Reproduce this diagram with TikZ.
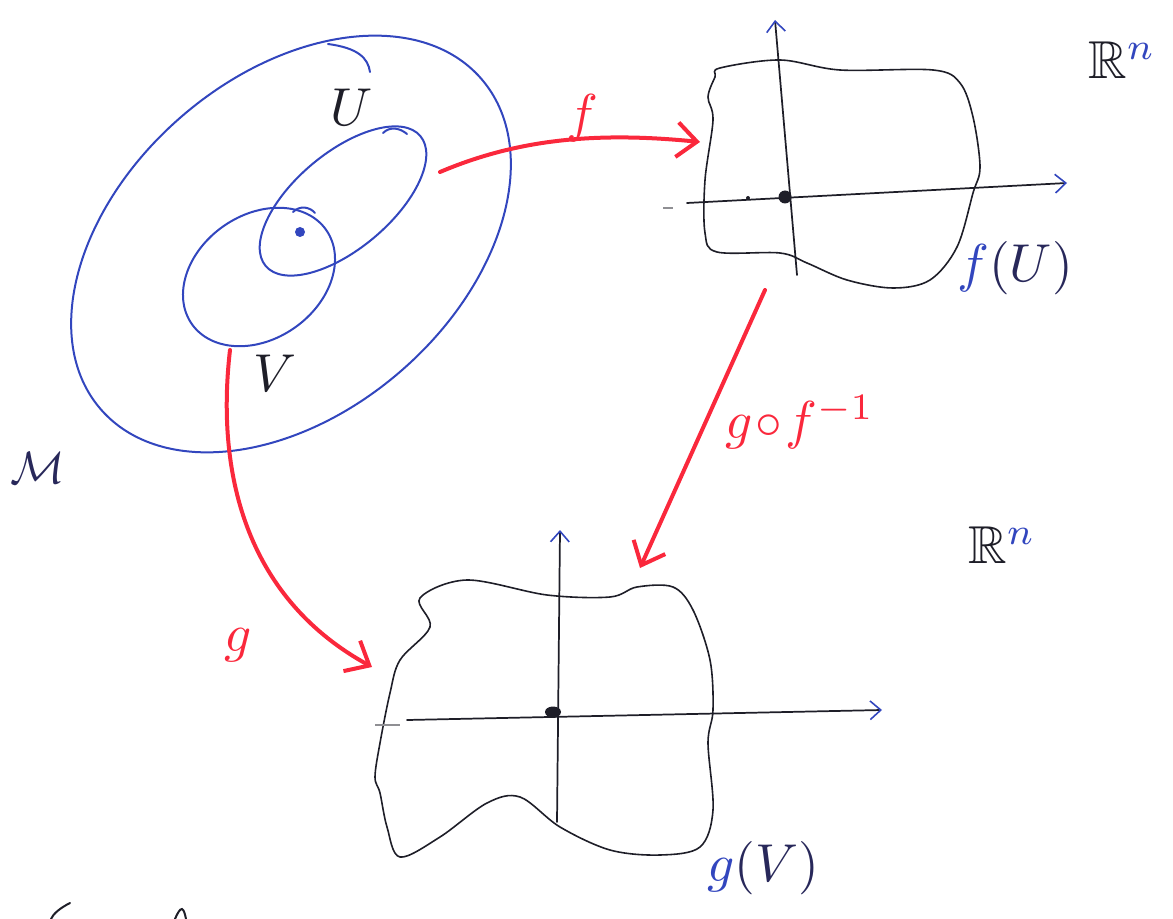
\documentclass[tikz,border=0pt]{standalone}
\usepackage{amssymb}
\usepackage{graphicx}
\usetikzlibrary{arrows.meta}
\definecolor{penblue}{RGB}{50,70,190}
\definecolor{penred}{RGB}{250,40,60}
\definecolor{ink}{RGB}{30,30,40}
\definecolor{navy}{RGB}{40,40,90}
\newcommand{\handlbl}[1]{\scalebox{4}{$#1$}}
\newcommand{\handlblsm}[1]{\scalebox{3.4}{$#1$}}
\tikzset{
  blueline/.style={draw=penblue, line width=1.5pt, line cap=round, line join=round},
  blackline/.style={draw=ink, line width=1.2pt, line cap=round, line join=round},
  redarrow/.style={draw=penred, line width=3pt, line cap=round, -{Straight Barb[length=15pt,width=26pt,line width=3pt]}},
  axis/.style={draw=ink, line width=1.3pt, line cap=round, -{Straight Barb[color=penblue,length=8pt,width=14pt,line width=1.2pt]}},
  lbl/.style={inner sep=0pt},
  redlbl/.style={lbl, text=penred},
}
\begin{document}
\begin{tikzpicture}[x=0.75pt,y=-0.75pt]
\useasboundingbox (0,0) rectangle (1173,919);

% manifold M
\draw[blueline, rotate around={41:(291,244)}] (291,244) ellipse [x radius=252, y radius=168];
\draw[blueline] (328,44) .. controls (358,48) and (368,58) .. (370,72);
% U
\draw[blueline, rotate around={40:(343,201)}] (343,201) ellipse [x radius=101, y radius=48];
\draw[blueline] (383,133) .. controls (390,126) and (400,128) .. (407,134);
% V
\draw[blueline, rotate around={35:(259,277)}] (259,277) ellipse [x radius=82, y radius=62];
\draw[blueline] (293,212) .. controls (300,205) and (310,207) .. (315,213);
\fill[penblue] (300,232) circle (5);

% f(U)
\draw[blackline] plot[smooth cycle, tension=0.55] coordinates {(720,68) (780,60) (840,70) (933,70) (960,83) (973,117) (980,167) (973,193) (957,247) (930,280) (893,288) (847,280) (807,263) (780,253) (717,252) (705,233) (705,180) (713,120) (708,97) (715,77)};
\coordinate (fUbot) at (797,275);
\coordinate (fUtop) at (775,20);
\coordinate (fUleft) at (687,203);
\coordinate (fUright) at (1067,183);
\draw[axis] (fUbot) -- (fUtop);
\draw[axis] (fUleft) -- (fUright);
\draw[ink!50, line width=0.8pt] (663,208) -- (673,208);
\fill[ink] (785,197) circle (6.5);
\fill[ink] (748,198) circle (2);

% g(V)
\draw[blackline] plot[smooth cycle, tension=0.55] coordinates {(420,598) (467,580) (547,595) (610,597) (637,587) (673,587) (693,610) (710,660) (713,710) (708,743) (713,810) (700,847) (660,855) (610,850) (560,827) (520,797) (487,803) (440,837) (400,857) (387,827) (380,793) (375,777) (380,743) (390,693) (400,660) (430,627)};
\coordinate (gVbot) at (557,822);
\coordinate (gVtop) at (560,530);
\coordinate (gVleft) at (407,720);
\coordinate (gVright) at (882,710);
\draw[axis] (gVbot) -- (gVtop);
\draw[axis] (gVleft) -- (gVright);
\draw[ink!50, line width=0.8pt] (375,725) -- (400,725);
\fill[ink] (553,712) ellipse (8 and 5.5);

% red maps
\coordinate (fstart) at (440,172);
\coordinate (fend) at (700,142);
\draw[redarrow] (fstart) .. controls (520,138) and (600,132) .. (fend);
\coordinate (gstart) at (230,350);
\coordinate (gend) at (372,667);
\draw[redarrow] (gstart) .. controls (215,480) and (250,600) .. (gend);
\coordinate (gfstart) at (765,290);
\coordinate (gfend) at (640,568);
\draw[redarrow] (gfstart) -- (gfend);

% labels
\node[redlbl] (flbl) at (582,118) {\handlbl{f}};
\node[redlbl] (glbl) at (238,645) {\handlbl{g}};
\node[redlbl] (gflbl) at (800,422) {\handlbl{g\!\circ\! f^{-1}}};
\node[lbl, text=navy] (Mlbl) at (38,468) {\handlblsm{\mathcal{M}}};
\node[lbl, text=ink] (Ulbl) at (352,107) {\handlbl{U}};
\node[lbl, text=ink] (Vlbl) at (275,373) {\handlbl{V}};
\node[lbl, text=ink] (Rtop) at (1122,60) {\handlbl{\mathbb{R}^{\textcolor{penblue}{n}}}};
\node[lbl, text=ink] (Rbot) at (1002,545) {\handlbl{\mathbb{R}^{\textcolor{penblue}{n}}}};
\node[lbl, text=navy] (fUlbl) at (1015,268) {\handlbl{\textcolor{penblue}{f}(U)}};
\node[lbl, text=navy] (gVlbl) at (763,868) {\handlbl{\textcolor{penblue}{g}(V)}};

% cut-off strokes at the bottom edge
\draw[ink, line width=1.5pt, line cap=round] (70,903) .. controls (60,908) and (53,914) .. (51,919);
\draw[ink, line width=1.5pt, line cap=round] (175,919) .. controls (178,912) and (180,909) .. (182,909) .. controls (184,910) and (185,914) .. (186,919);
\end{tikzpicture}
\end{document}
